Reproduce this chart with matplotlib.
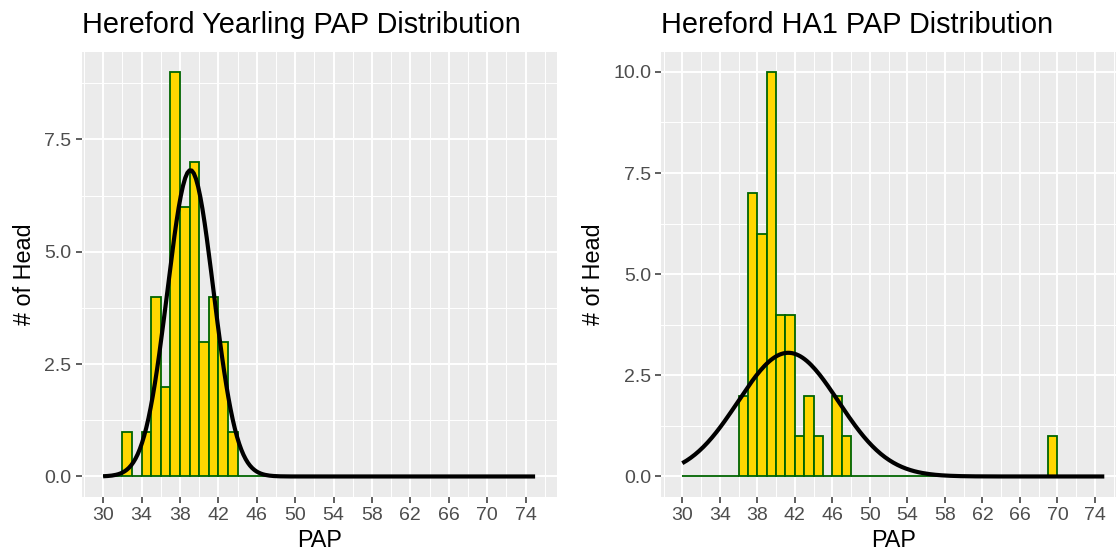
import numpy as np
import matplotlib
matplotlib.use("Agg")
import matplotlib.pyplot as plt
from matplotlib.ticker import MultipleLocator

plt.rcParams['font.family'] = ['Liberation Sans', 'DejaVu Sans']

# ---- data ----
bin_start = 30
bin_width = 1
n_bins = 45

# counts per 1-unit bin starting at 30 (30-31, 31-32, ..., 74-75)
yearling_counts = [0, 0, 1, 0, 1, 4, 2, 9, 6, 7, 3, 4, 3, 1, 0,
                   0, 0, 0, 0, 0, 0, 0, 0, 0, 0, 0, 0, 0, 0, 0,
                   0, 0, 0, 0, 0, 0, 0, 0, 0, 0, 0, 0, 0, 0, 0]
ha1_counts = [0, 0, 0, 0, 0, 0, 2, 7, 6, 10, 4, 4, 1, 2, 1,
              0, 2, 1, 0, 0, 0, 0, 0, 0, 0, 0, 0, 0, 0, 0,
              0, 0, 0, 0, 0, 0, 0, 0, 0, 1, 0, 0, 0, 0, 0]

# fitted normal curves (mean, sd)
yearling_fit = (39.1, 2.4)
ha1_fit = (41.3, 5.35)

titles = ["Hereford Yearling PAP Distribution", "Hereford HA1 PAP Distribution"]
x_ticks = list(range(30, 75, 4))
x_label = "PAP"
y_label = "# of Head"

# ---- style ----
W, H = 1116, 552
fig = plt.figure(figsize=(W / 100, H / 100), dpi=100)

panels = [
    (yearling_counts, yearling_fit, titles[0], [81.5, 51.7, 556.7, 496.7], 9),
    (ha1_counts, ha1_fit, titles[1], [661.2, 51.7, 1125.4, 496.7], 10),
]

bg = "#EBEBEB"
for counts, (mu, sd), title, (x0, y0, x1, y1), ymax in panels:
    ax = fig.add_axes([x0 / W, 1 - y1 / H, (x1 - x0) / W, (y1 - y0) / H])
    ax.set_facecolor(bg)
    for s in ax.spines.values():
        s.set_visible(False)

    edges = bin_start + bin_width * np.arange(n_bins)
    ax.bar(edges, counts, width=bin_width, align='edge', color="#FFD700",
           edgecolor="#006400", linewidth=1.3, zorder=3)

    n = sum(counts)
    xs = np.linspace(bin_start, bin_start + n_bins * bin_width, 201)
    ys = n * bin_width * np.exp(-0.5 * ((xs - mu) / sd) ** 2) / (sd * np.sqrt(2 * np.pi))
    ax.plot(xs, ys, color="black", linewidth=3.0, zorder=4, solid_capstyle='butt')

    xr = n_bins * bin_width
    ax.set_xlim(bin_start - 0.05 * xr, bin_start + xr + 0.05 * xr)
    ax.set_ylim(-0.05 * ymax, ymax * 1.05)

    ax.set_xticks(x_ticks)
    ax.xaxis.set_minor_locator(MultipleLocator(2))
    ax.yaxis.set_major_locator(MultipleLocator(2.5))
    ax.yaxis.set_minor_locator(MultipleLocator(1.25))
    ax.yaxis.set_major_formatter(matplotlib.ticker.FormatStrFormatter('%.1f'))

    ax.grid(True, which='major', color='white', linewidth=1.4, zorder=0)
    ax.grid(True, which='minor', color='white', linewidth=0.7, zorder=0)
    ax.set_axisbelow(True)

    ax.tick_params(which='major', length=4.2, width=1.1, color='#333333',
                   labelsize=14, labelcolor='#4D4D4D', pad=3)
    ax.tick_params(which='minor', length=0)

    ax.set_xlabel(x_label, fontsize=16.8, color='black', labelpad=3.5)
    ax.set_ylabel(y_label, fontsize=16.8, color='black', labelpad=6)
    ax.set_title(title, loc='left', fontsize=20.8, color='black', pad=13.5)

fig.savefig("out.png", dpi=100)
